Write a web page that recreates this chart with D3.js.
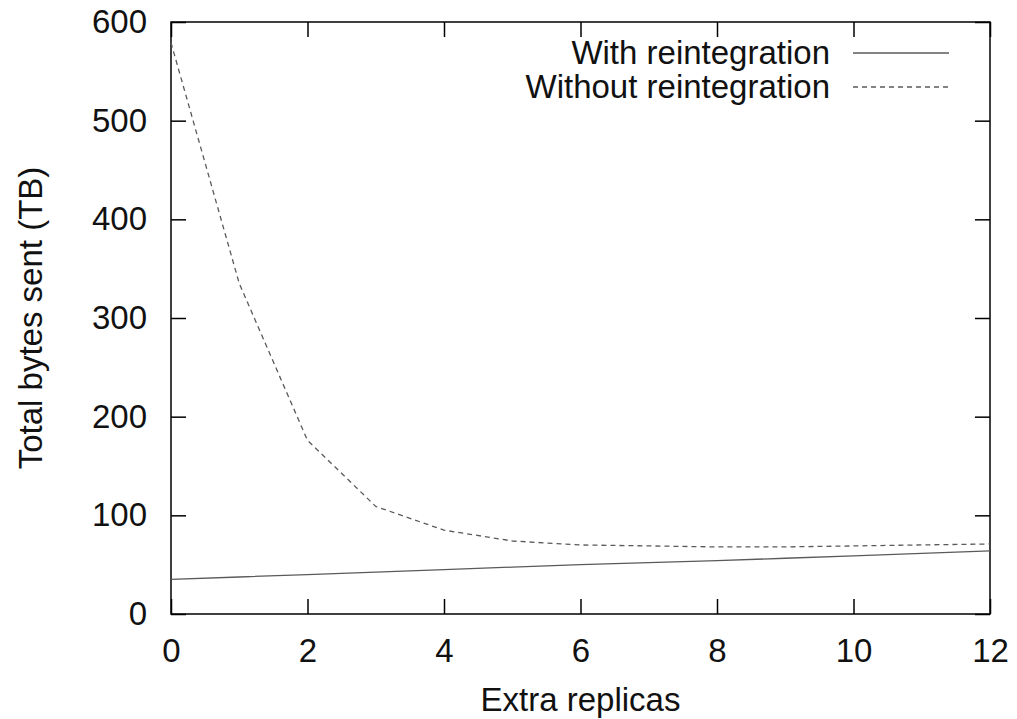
<!DOCTYPE html>
<html>
<head>
<meta charset="utf-8">
<script src="https://cdn.jsdelivr.net/npm/d3@7"></script>
<style>
  body { margin: 0; background: #fff; }
  svg text { font-family: "Liberation Sans", Arial, sans-serif; fill: #111; }
</style>
</head>
<body>
<div id="chart"></div>
<script>
// extra replicas on x
const replicas = [0, 1, 2, 3, 4, 5, 6, 7, 8, 9, 10, 11, 12]
// total bytes sent (TB)
const withReint = [35, 37.5, 40, 42.5, 45, 47.5, 50, 52, 54, 56.5, 59, 61.5, 64]
const withoutReint = [579, 335, 176, 109, 85, 74, 70, 69, 68, 68, 69, 70, 71]
const xTicks = [0, 2, 4, 6, 8, 10, 12]
const yTicks = [0, 100, 200, 300, 400, 500, 600]
const seriesNames = ["With reintegration", "Without reintegration"]

const width = 1017
const height = 719
const margin = { top: 22, right: 27, bottom: 105, left: 171 }
const fontSize = 33

const svg = d3
  .select("#chart")
  .append("svg")
  .attr("width", width)
  .attr("height", height)

const x = d3
  .scaleLinear()
  .domain([0, 12])
  .range([margin.left, width - margin.right])

const y = d3
  .scaleLinear()
  .domain([0, 600])
  .range([height - margin.bottom, margin.top])

// axes, ticks point inward like gnuplot
const tickLen = 15
function styleAxis(g) {
  g.select(".domain").remove()
  g.selectAll(".tick line").attr("stroke", "#000").attr("stroke-width", 1.5)
  g.selectAll("text").attr("font-size", fontSize).attr("fill", "#111")
}

svg
  .append("g")
  .attr("transform", `translate(0,${y(0)})`)
  .call(d3.axisBottom(x).tickValues(xTicks).tickSize(-tickLen).tickPadding(25))
  .call(styleAxis)

svg
  .append("g")
  .attr("transform", `translate(${x(0)},0)`)
  .call(d3.axisLeft(y).tickValues(yTicks).tickSize(-tickLen).tickPadding(24))
  .call(styleAxis)

svg
  .append("g")
  .attr("transform", `translate(0,${y(600)})`)
  .call(d3.axisTop(x).tickValues(xTicks).tickSize(-tickLen).tickFormat(""))
  .call(styleAxis)

svg
  .append("g")
  .attr("transform", `translate(${x(12)},0)`)
  .call(d3.axisRight(y).tickValues(yTicks).tickSize(-tickLen).tickFormat(""))
  .call(styleAxis)

// border
svg
  .append("rect")
  .attr("x", x(0))
  .attr("y", y(600))
  .attr("width", x(12) - x(0))
  .attr("height", y(0) - y(600))
  .attr("fill", "none")
  .attr("stroke", "#000")
  .attr("stroke-width", 1.5)

const line = d3
  .line()
  .x((d, i) => x(replicas[i]))
  .y((d) => y(d))

const lineColor = "#5a5a5a"

svg
  .append("path")
  .datum(withReint)
  .attr("d", line)
  .attr("fill", "none")
  .attr("stroke", lineColor)
  .attr("stroke-width", 1.3)

svg
  .append("path")
  .datum(withoutReint)
  .attr("d", line)
  .attr("fill", "none")
  .attr("stroke", lineColor)
  .attr("stroke-width", 1.3)
  .attr("stroke-dasharray", "5,4")

// legend
const legend = svg.append("g")
seriesNames.forEach((name, i) => {
  const cy = 53 + i * 34
  legend
    .append("text")
    .attr("x", 830)
    .attr("y", cy)
    .attr("dy", "0.33em")
    .attr("text-anchor", "end")
    .attr("font-size", fontSize)
    .text(name)
  legend
    .append("line")
    .attr("x1", 853)
    .attr("x2", 949)
    .attr("y1", cy)
    .attr("y2", cy)
    .attr("stroke", lineColor)
    .attr("stroke-width", 1.3)
    .attr("stroke-dasharray", i === 1 ? "5,4" : null)
})

// axis labels
svg
  .append("text")
  .attr("x", (x(0) + x(12)) / 2)
  .attr("y", 711)
  .attr("text-anchor", "middle")
  .attr("font-size", fontSize)
  .text("Extra replicas")

svg
  .append("text")
  .attr("transform", `translate(42,${(y(0) + y(600)) / 2}) rotate(-90)`)
  .attr("text-anchor", "middle")
  .attr("font-size", fontSize)
  .text("Total bytes sent (TB)")
</script>
</body>
</html>
